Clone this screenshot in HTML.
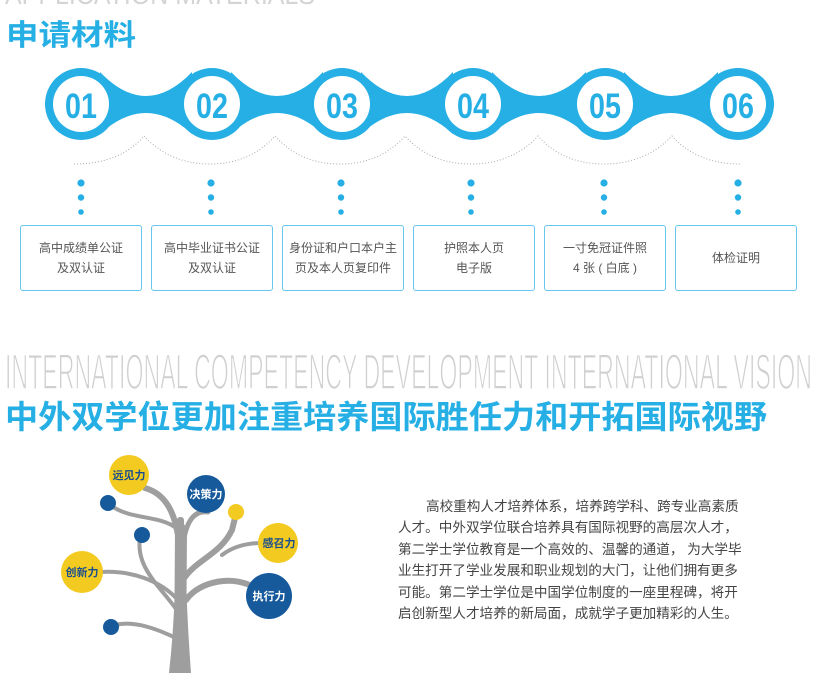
<!DOCTYPE html>
<html><head><meta charset="utf-8"><style>
html,body{margin:0;padding:0;background:#fff;width:818px;height:673px;overflow:hidden}
svg{position:absolute;left:0;top:0}
.t{font-family:"Liberation Sans","Noto Sans CJK SC",sans-serif}
.box{position:absolute;top:225px;height:64px;border:1.5px solid #66c6ee;border-radius:3px;box-sizing:content-box;display:flex;align-items:center;justify-content:center;text-align:center;font-family:"Liberation Sans","Noto Sans CJK SC",sans-serif;font-size:12px;line-height:20px;color:#555}
.p{position:absolute;left:398px;font-family:"Liberation Sans","Noto Sans CJK SC",sans-serif;font-size:13.6px;color:#444;white-space:nowrap}
</style></head><body>
<svg width="818" height="673" viewBox="0 0 818 673">
<text x="5" y="4" class="t" font-size="28" fill="#d4d4d4" textLength="310" lengthAdjust="spacingAndGlyphs">APPLICATION MATERIALS</text>
<text x="6" y="45" class="t" font-size="29" font-weight="bold" fill="#25afe4" textLength="130" lengthAdjust="spacingAndGlyphs">申请材料</text>
<g fill="#25afe4">
<path d="M100,72 Q146,120 192,72 L192,134 Q146,92 100,134Z"/>
<path d="M231,72 Q277,120 323,72 L323,134 Q277,92 231,134Z"/>
<path d="M361,72 Q407,120 453,72 L453,134 Q407,92 361,134Z"/>
<path d="M492,72 Q539,120 586,72 L586,134 Q539,92 492,134Z"/>
<path d="M624,72 Q671,120 718,72 L718,134 Q671,92 624,134Z"/>
<circle cx="81" cy="104" r="36"/><circle cx="212" cy="104" r="36"/><circle cx="342" cy="104" r="36"/><circle cx="473" cy="104" r="36"/><circle cx="605" cy="104" r="36"/><circle cx="738" cy="104" r="36"/>
</g>
<g fill="#fff"><circle cx="81" cy="104" r="28"/><circle cx="212" cy="104" r="28"/><circle cx="342" cy="104" r="28"/><circle cx="473" cy="104" r="28"/><circle cx="605" cy="104" r="28"/><circle cx="738" cy="104" r="28"/></g>
<g class="t" font-size="35" font-weight="bold" fill="#25afe4" text-anchor="middle">
<text transform="translate(81,118) scale(0.82,1)">01</text>
<text transform="translate(212,118) scale(0.82,1)">02</text>
<text transform="translate(342,118) scale(0.82,1)">03</text>
<text transform="translate(473,118) scale(0.82,1)">04</text>
<text transform="translate(605,118) scale(0.82,1)">05</text>
<text transform="translate(738,118) scale(0.82,1)">06</text>
</g>
<path d="M74,164 Q120,164 144,136 Q170,164 210,164 Q250,164 275,136 Q300,164 340,164 Q380,164 405,136 Q430,164 471,164 Q512,164 538,136 Q563,164 604,164 Q645,164 672,136 Q697,164 740,164" fill="none" stroke="#aaa" stroke-width="1" stroke-dasharray="1 2"/>
<g fill="#25afe4">
<circle cx="81" cy="183" r="3.6"/><circle cx="81" cy="197.5" r="3.2"/><circle cx="81" cy="212" r="2.8"/>
<circle cx="211" cy="183" r="3.6"/><circle cx="211" cy="197.5" r="3.2"/><circle cx="211" cy="212" r="2.8"/>
<circle cx="341" cy="183" r="3.6"/><circle cx="341" cy="197.5" r="3.2"/><circle cx="341" cy="212" r="2.8"/>
<circle cx="471" cy="183" r="3.6"/><circle cx="471" cy="197.5" r="3.2"/><circle cx="471" cy="212" r="2.8"/>
<circle cx="604" cy="183" r="3.6"/><circle cx="604" cy="197.5" r="3.2"/><circle cx="604" cy="212" r="2.8"/>
<circle cx="738" cy="183" r="3.6"/><circle cx="738" cy="197.5" r="3.2"/><circle cx="738" cy="212" r="2.8"/>
</g>
<text x="5" y="389" class="t" font-size="50" fill="#d0d0d0" textLength="807" lengthAdjust="spacingAndGlyphs" stroke="#fff" stroke-width="1.6">INTERNATIONAL COMPETENCY DEVELOPMENT INTERNATIONAL VISION</text>
<text x="5" y="428" class="t" font-size="32" font-weight="bold" fill="#25afe4" textLength="762" lengthAdjust="spacingAndGlyphs">中外双学位更加注重培养国际胜任力和开拓国际视野</text>
<g fill="none" stroke="#9e9e9e" stroke-linecap="round">
<path d="M172,673 C178,620 178,580 180,520" stroke-width="6"/>
<path d="M188,673 C184,620 183,580 181,520" stroke-width="6"/>
<path d="M180,673 L181,530" stroke-width="12"/>
<path d="M181,560 C178,520 170,495 145,488" stroke-width="6"/>
<path d="M176,528 C160,515 130,520 110,505" stroke-width="4"/>
<path d="M183,545 C186,520 195,510 208,512" stroke-width="5"/>
<path d="M183,580 C195,560 220,555 232,530 L236,514" stroke-width="6"/>
<path d="M222,555 C235,545 250,543 262,543" stroke-width="4"/>
<path d="M186,600 C200,580 235,575 255,588" stroke-width="6"/>
<path d="M178,600 C160,580 130,570 100,572" stroke-width="4"/>
<path d="M180,615 C165,590 135,570 140,538" stroke-width="4"/>
<path d="M180,640 C160,630 135,620 115,625" stroke-width="4"/>
</g>
<circle cx="129" cy="475" r="20" fill="#f3ca1f"/>
<circle cx="108" cy="503" r="8" fill="#165a9b"/>
<circle cx="206" cy="494" r="19" fill="#165a9b"/>
<circle cx="236" cy="512" r="8" fill="#f3ca1f"/>
<circle cx="278" cy="543" r="20" fill="#f3ca1f"/>
<circle cx="142" cy="535" r="8" fill="#165a9b"/>
<circle cx="82" cy="572" r="21" fill="#f3ca1f"/>
<circle cx="269" cy="596" r="23" fill="#165a9b"/>
<circle cx="111" cy="627" r="8" fill="#165a9b"/>
<g class="t" font-size="11" font-weight="bold" text-anchor="middle">
<text x="129" y="479" fill="#1a4f8e">远见力</text>
<text x="206" y="498" fill="#fff">决策力</text>
<text x="279" y="547" fill="#1a4f8e">感召力</text>
<text x="82" y="576" fill="#1a4f8e">创新力</text>
<text x="269" y="600" fill="#fff">执行力</text>
</g>
</svg>
<div class="box" style="left:20px;width:120px">高中成绩单公证<br>及双认证</div>
<div class="box" style="left:151px;width:120px">高中毕业证书公证<br>及双认证</div>
<div class="box" style="left:282px;width:120px">身份证和户口本户主<br>页及本人页复印件</div>
<div class="box" style="left:413px;width:120px">护照本人页<br>电子版</div>
<div class="box" style="left:544px;width:120px">一寸免冠证件照<br>4 张 ( 白底 )</div>
<div class="box" style="left:675px;width:120px">体检证明</div>
<div class="p" style="top:495px;left:426px">高校重构人才培养体系，培养跨学科、跨专业高素质</div>
<div class="p" style="top:516px">人才。中外双学位联合培养具有国际视野的高层次人才，</div>
<div class="p" style="top:538px">第二学士学位教育是一个高效的、温馨的通道， 为大学毕</div>
<div class="p" style="top:559px">业生打开了学业发展和职业规划的大门，让他们拥有更多</div>
<div class="p" style="top:581px">可能。第二学士学位是中国学位制度的一座里程碑，将开</div>
<div class="p" style="top:602px">启创新型人才培养的新局面，成就学子更加精彩的人生。</div>
</body></html>
